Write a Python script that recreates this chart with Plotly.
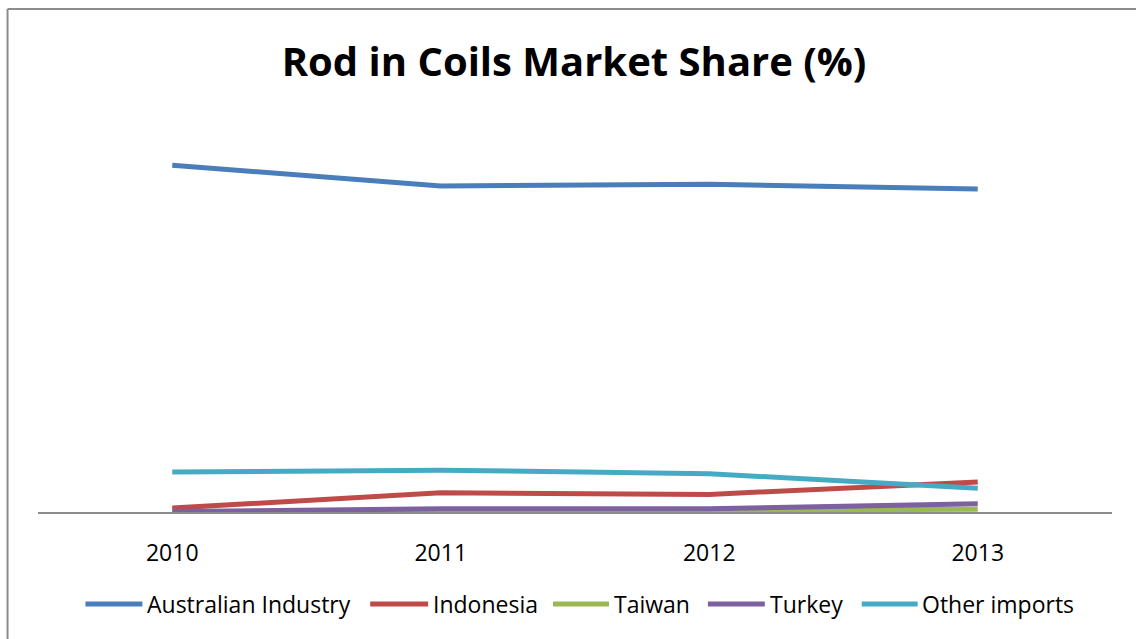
import plotly.graph_objects as go

years = ["2010", "2011", "2012", "2013"]
australian = [88.7, 83.4, 83.8, 82.6]
indonesia = [1.0, 4.9, 4.5, 7.7]
taiwan = [0.0, 0.2, 0.3, 0.7]
turkey = [0.1, 0.8, 0.8, 2.1]
other = [10.2, 10.7, 9.8, 6.1]

series = [
    ("Australian Industry", australian, "#4A7EBB"),
    ("Indonesia", indonesia, "#BE4B48"),
    ("Taiwan", taiwan, "#98B954"),
    ("Turkey", turkey, "#7D60A0"),
    ("Other imports", other, "#46AAC5"),
]

# legend placement (pixels): line start, line end, text start
legend_pos = [(85, 142, 145), (370, 428, 431), (553, 609, 612), (708, 765, 768), (862, 918, 920)]

L, R, T, B = 37.5, 23.5, 121, 127
W, H = 1136, 639
PW, PH = W - L - R, H - T - B


def px(x):
    return (x - L) / PW


def py(y):
    return (H - B - y) / PH


fig = go.Figure()
for name, vals, col in series:
    fig.add_trace(go.Scatter(x=years, y=vals, mode="lines", name=name,
                             line=dict(color=col, width=5), showlegend=False))

FONT = "Open Sans, sans-serif"
fig.update_layout(
    width=W, height=H,
    margin=dict(l=L, r=R, t=T, b=B),
    paper_bgcolor="white", plot_bgcolor="white",
    title=dict(text="<b>Rod in Coils Market Share (%)</b>", x=px(574), xref="paper", xanchor="center",
               y=1 - 62 / H, yanchor="middle",
               font=dict(family=FONT, size=40, color="black")),
    font=dict(family=FONT, size=23, color="black"),
    xaxis=dict(type="category", range=[-0.5, 3.5], showgrid=False,
               showline=True, linecolor="#8C8C8C", linewidth=2,
               ticks="", ticklabelstandoff=19, layer="below traces",
               tickfont=dict(size=23), fixedrange=True),
    yaxis=dict(range=[0, 100], visible=False, showgrid=False, zeroline=False),
    showlegend=False,
)

# manual legend
for (name, vals, col), (x0, x1, tx) in zip(series, legend_pos):
    fig.add_shape(type="line", xref="paper", yref="paper",
                  x0=px(x0), x1=px(x1), y0=py(604), y1=py(604),
                  line=dict(color=col, width=5))
    fig.add_annotation(text=name, xref="paper", yref="paper", x=px(tx), y=py(604),
                       xanchor="left", yanchor="middle", showarrow=False,
                       font=dict(family=FONT, size=23, color="black"))

# chart border (partially visible on left and top)
fig.add_shape(type="line", xref="paper", yref="paper",
              x0=px(7), x1=px(1200), y0=py(9), y1=py(9),
              line=dict(color="#8C8C8C", width=2))
fig.add_shape(type="line", xref="paper", yref="paper",
              x0=px(7), x1=px(7), y0=py(9), y1=py(700),
              line=dict(color="#8C8C8C", width=2))

fig.write_html("out.html")
